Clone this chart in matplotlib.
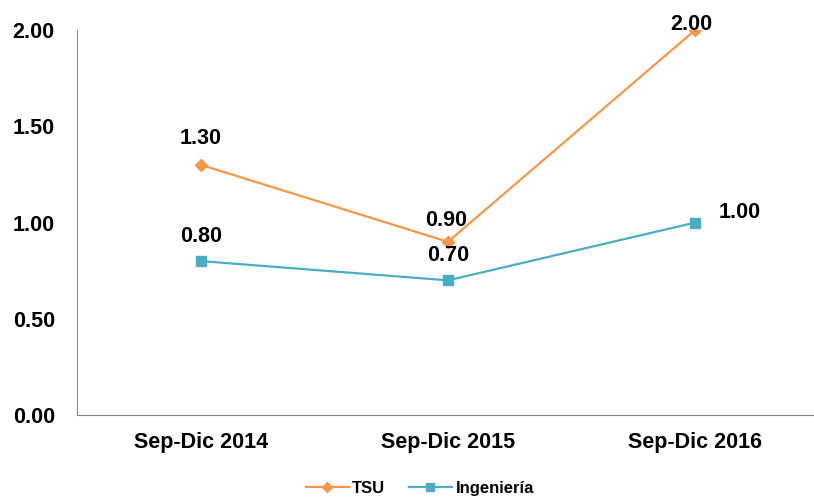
import matplotlib.pyplot as plt

periodos = ['Sep-Dic 2014', 'Sep-Dic 2015', 'Sep-Dic 2016']
tsu = [1.30, 0.90, 2.00]
ingenieria = [0.80, 0.70, 1.00]

plt.rcParams['font.family'] = ['Liberation Sans', 'DejaVu Sans']
plt.rcParams['font.weight'] = 'bold'

fig = plt.figure(figsize=(8.14, 4.99), dpi=100)
ax = fig.add_axes([0.0946, 0.168, 0.9054, 0.772])

x = range(len(periodos))
ax.plot(x, tsu, color='#F79646', lw=1.6, marker='D', ms=6.5, label='TSU')
ax.plot(x, ingenieria, color='#4BACC6', lw=1.6, marker='s', ms=7.5, label='Ingeniería')

# etiquetas de datos
off_tsu = [(0, 19), (-1, 15), (-3, 4)]
off_ing = [(0, 18), (0, 18), (32, 7)]
for i in x:
    ax.annotate('%.2f' % tsu[i], (i, tsu[i]), xytext=off_tsu[i], textcoords='offset points',
                ha='center', va='center', fontsize=15.5, fontweight='bold')
    ax.annotate('%.2f' % ingenieria[i], (i, ingenieria[i]), xytext=off_ing[i], textcoords='offset points',
                ha='center', va='center', fontsize=15.5, fontweight='bold')

ax.set_xlim(-0.5, 2.48)
ax.set_ylim(0, 2.0)
ax.set_yticks([0, 0.5, 1.0, 1.5, 2.0])
ax.set_yticklabels(['%.2f' % v for v in [0, 0.5, 1.0, 1.5, 2.0]])
ax.set_xticks(list(x))
ax.set_xticklabels(periodos)
ax.tick_params(axis='both', length=0, labelsize=15.5)
ax.tick_params(axis='x', pad=12)
ax.tick_params(axis='y', pad=16)
for lab in ax.get_xticklabels() + ax.get_yticklabels():
    lab.set_fontweight('bold')
ax.spines['top'].set_visible(False)
ax.spines['right'].set_visible(False)
ax.spines['left'].set_color('#868686')
ax.spines['bottom'].set_color('#868686')

ax.legend(loc='center', bbox_to_anchor=(0.465, -0.19), ncol=2, frameon=False,
          handlelength=2.6, columnspacing=1.4, handletextpad=0.2, markerscale=0.8,
          prop={'weight': 'bold', 'size': 12})

plt.savefig('out.png', dpi=100)
